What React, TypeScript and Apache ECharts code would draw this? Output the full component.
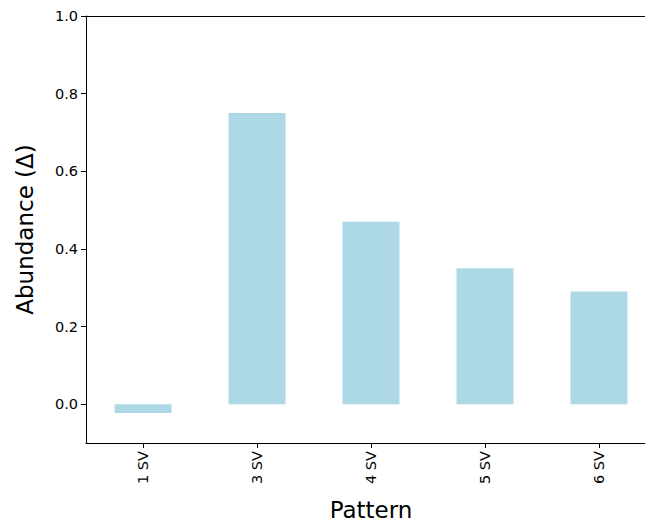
import React, { useEffect, useRef } from "react";
import * as echarts from "echarts";

const categories = ["1 SV", "3 SV", "4 SV", "5 SV", "6 SV"];
const abundance = [-0.023, 0.75, 0.47, 0.35, 0.29];
const yTicks = [0, 0.2, 0.4, 0.6, 0.8, 1.0];

export default function App() {
  const ref = useRef<HTMLDivElement>(null);
  useEffect(() => {
    if (!ref.current) return;
    const chart = echarts.init(ref.current, null, { renderer: "svg" });
    const font = "DejaVu Sans";
    chart.setOption({
      animation: false,
      backgroundColor: "#ffffff",
      grid: {
        left: 86,
        top: 16,
        width: 570,
        height: 427,
        containLabel: false,
        outerBoundsMode: "none",
      },
      xAxis: [
        {
          type: "category",
          data: categories,
          position: "bottom",
          name: "Pattern",
          nameLocation: "middle",
          nameGap: 55,
          nameTextStyle: { fontFamily: font, fontSize: 23, color: "#000" },
          axisLine: { show: true, onZero: false, lineStyle: { color: "#000", width: 1 } },
          axisTick: { show: true, alignWithLabel: true, length: 5, lineStyle: { color: "#000" } },
          axisLabel: { rotate: 90, fontFamily: font, fontSize: 14.5, color: "#000", margin: 8 },
          splitLine: { show: false },
        },
        {
          type: "category",
          data: categories,
          position: "top",
          axisLine: { show: true, onZero: false, lineStyle: { color: "#000", width: 1 } },
          axisTick: { show: false },
          axisLabel: { show: false },
        },
      ],
      yAxis: {
        type: "value",
        min: -0.1,
        max: 1.0,
        name: "Abundance (Δ)",
        nameLocation: "middle",
        nameGap: 50,
        nameTextStyle: { fontFamily: font, fontSize: 23, color: "#000" },
        axisLine: { show: true, lineStyle: { color: "#000", width: 1 } },
        axisTick: { show: true, length: 5, customValues: yTicks, lineStyle: { color: "#000" } },
        axisLabel: {
          customValues: yTicks,
          fontFamily: font,
          fontSize: 14.5,
          color: "#000",
          margin: 8,
          formatter: (v: number) => v.toFixed(1),
        },
        splitLine: { show: false },
      },
      series: [
        {
          type: "bar",
          data: abundance,
          barWidth: "50%",
          itemStyle: { color: "#ADD8E6" },
        },
      ],
    });
    return () => chart.dispose();
  }, []);
  return (
    <div
      ref={ref}
      style={{ position: "fixed", left: 0, top: 0, width: 645, height: 521 }}
    />
  );
}
